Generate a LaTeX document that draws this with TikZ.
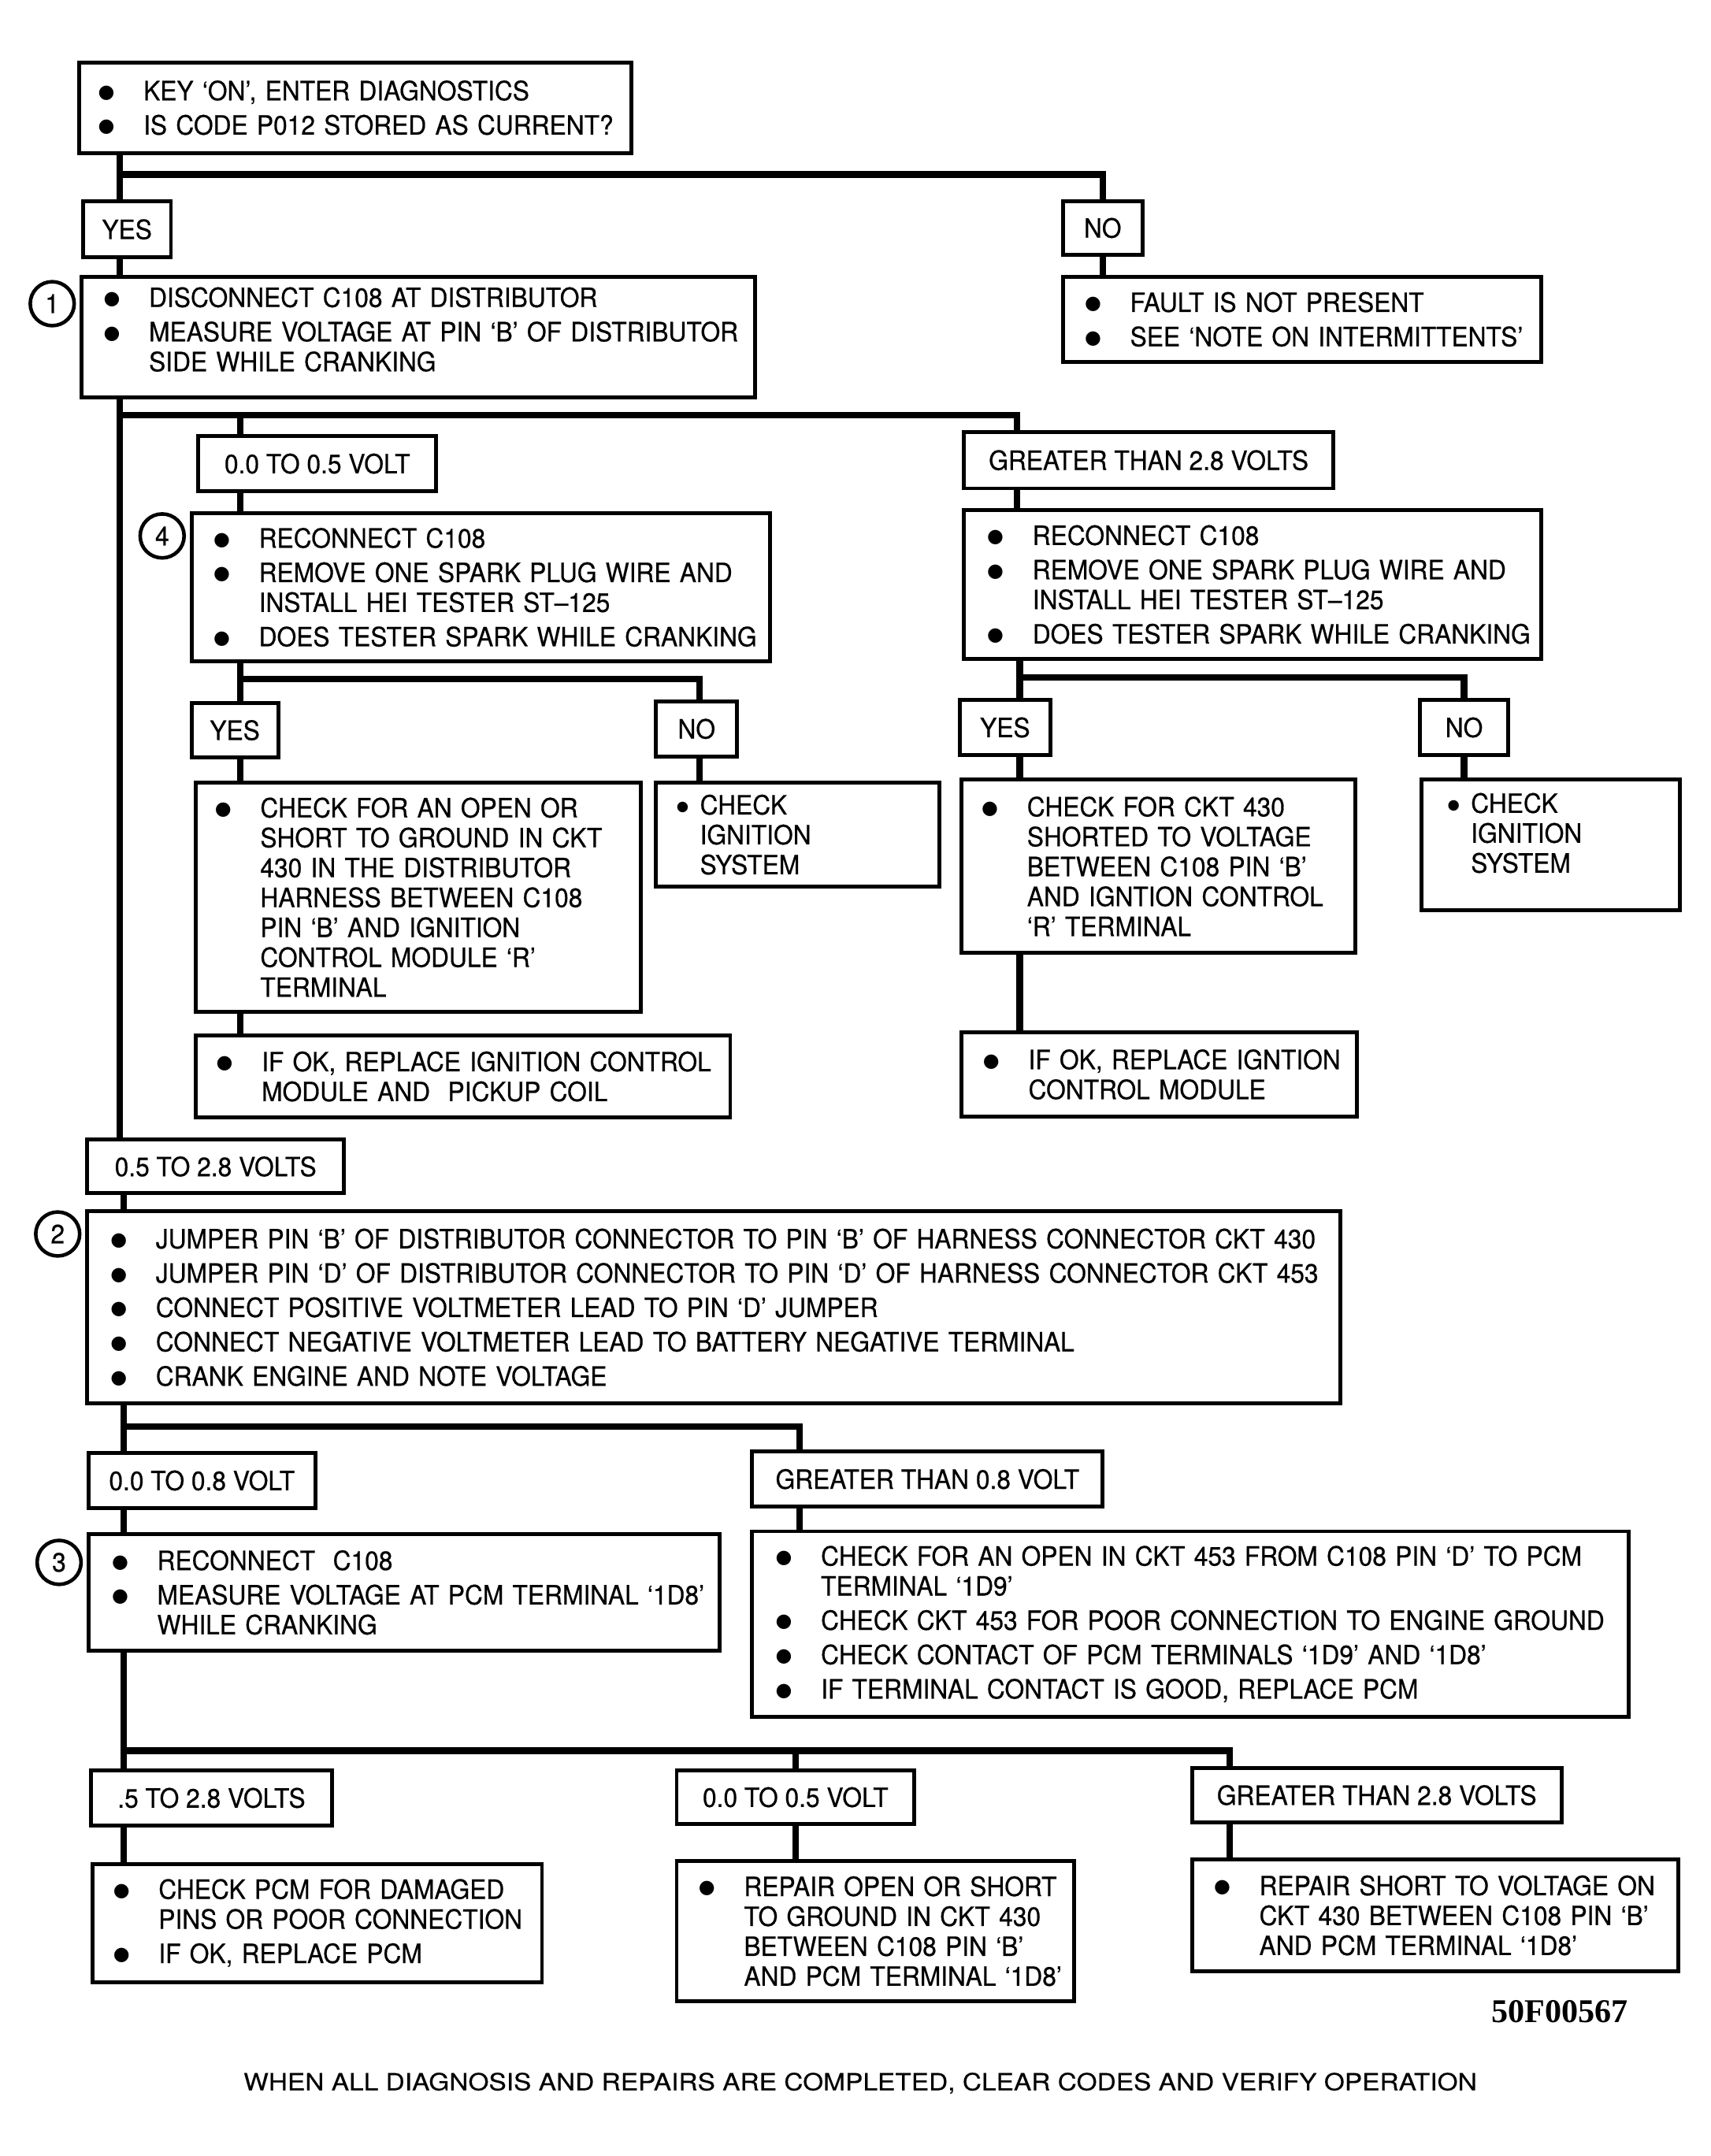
\documentclass[tikz,border=0pt]{standalone}
\usepackage{fontspec}
\setmainfont[FakeStretch=0.94,FakeBold=0.5]{TeX Gyre Heros}
\newfontfamily\footfont[FakeStretch=1.12,FakeBold=0.3]{TeX Gyre Heros}
\newfontfamily\codefont{Liberation Serif}
\newfontfamily\dotfont{DejaVu Sans}
\newlength\pxl
\setlength\pxl{0.01744cm}
\newcommand{\bul}{\makebox[33\pxl][l]{\smash{\raisebox{0.9pt}{\dotfont\fontsize{6.8}{7}\selectfont ●}}}}
\newcommand{\sbul}{\makebox[17\pxl][l]{\smash{\raisebox{1.3pt}{\dotfont\fontsize{5}{6}\selectfont ●}}}}
\newcommand{\ind}{\hspace*{33\pxl}}
\newcommand{\sind}{\hspace*{17\pxl}}
\newcommand{\nx}{\\[1.6pt]}
\tikzset{
	box/.style n args={3}{
		draw, line width=1.4pt,
		anchor=north west,
		inner xsep=0pt, inner ysep=0pt,
		text width=#1*\pxl,
		minimum height=#2*\pxl,
		align=left,
		execute at begin node={\leftskip=#3\pxl\hyphenpenalty=10000\relax}},
	lbl/.style n args={2}{
		draw, line width=1.4pt,
		anchor=north west,
		minimum width=#1*\pxl,
		minimum height=#2*\pxl,
		inner sep=0pt},
	num/.style={
		draw, circle, line width=1.3pt,
		minimum size=32*\pxl, inner sep=0pt},
	conn/.style={line width=2.4pt},
}

\begin{document}
\begin{tikzpicture}
	[x=\pxl, y=-\pxl,
	font=\fontsize{9.6}{10.8}\selectfont]

	\useasboundingbox (0,0) rectangle (1245,1569);

	% columns of the connector lines
	\coordinate (ca) at (87,0);
	\coordinate (cc) at (740,0);
	\coordinate (cd) at (175,0);
	\coordinate (ce) at (509,0);
	\coordinate (cf) at (742,0);
	\coordinate (ch) at (90,0);
	\coordinate (ci) at (582,0);
	\coordinate (cj) at (895,0);

	% first test
	\node[box={402}{66}{14}] (top) at (56,44)
		{\bul KEY ‘ON’, ENTER DIAGNOSTICS\nx
		\bul IS CODE P012 STORED AS CURRENT?};
	\node[lbl={64}{41}] (yes1) at (59,145) {YES};
	\node[lbl={58}{39}] (no1) at (772,145) {NO};
	\node[box={348}{62}{16}] (res1) at (772,200)
		{\bul FAULT IS NOT PRESENT\nx
		\bul SEE ‘NOTE ON INTERMITTENTS’};
	\node[box={490}{88}{16}] (box1) at (58,200)
		{\bul DISCONNECT C108 AT DISTRIBUTOR\nx
		\bul MEASURE VOLTAGE AT PIN ‘B’ OF DISTRIBUTOR\\
		\ind SIDE WHILE CRANKING\\[-5pt]\mbox{}};
	\node[num] (n1) at (38,221) {1};

	% distributor side voltage
	\node[lbl={173}{40}] (lo05a) at (143,316) {0.0 TO 0.5 VOLT};
	\node[lbl={269}{41}] (gt28a) at (700,313) {GREATER THAN 2.8 VOLTS};
	\node[box={421}{108}{16}] (box4) at (138,372)
		{\bul RECONNECT C108\nx
		\bul REMOVE ONE SPARK PLUG WIRE AND\\
		\ind INSTALL HEI TESTER ST–125\nx
		\bul DOES TESTER SPARK WHILE CRANKING};
	\node[num] (n4) at (118,390) {4};
	\node[box={420}{108}{17}] (boxR) at (700,370)
		{\bul RECONNECT C108\nx
		\bul REMOVE ONE SPARK PLUG WIRE AND\\
		\ind INSTALL HEI TESTER ST–125\nx
		\bul DOES TESTER SPARK WHILE CRANKING};

	% spark test, left
	\node[lbl={63}{40}] (yes4) at (138,510) {YES};
	\node[lbl={59}{40}] (no4) at (476,509) {NO};
	\node[box={324}{167}{14}] (chkL) at (141,568)
		{\bul CHECK FOR AN OPEN OR\\
		\ind SHORT TO GROUND IN CKT\\
		\ind 430 IN THE DISTRIBUTOR\\
		\ind HARNESS BETWEEN C108\\
		\ind PIN ‘B’ AND IGNITION\\
		\ind CONTROL MODULE ‘R’\\
		\ind TERMINAL};
	\node[box={206}{76}{15}] (ignL) at (476,568)
		{\sbul CHECK\\
		\sind IGNITION\\
		\sind SYSTEM};
	\node[box={389}{60}{15}] (okL) at (141,752)
		{\bul IF OK, REPLACE IGNITION CONTROL\\
		\ind MODULE AND\ \ PICKUP COIL};

	% spark test, right
	\node[lbl={66}{40}] (yesR) at (697,508) {YES};
	\node[lbl={64}{40}] (noR) at (1032,508) {NO};
	\node[box={287}{126}{15}] (chkR) at (698,566)
		{\bul CHECK FOR CKT 430\\
		\ind SHORTED TO VOLTAGE\\
		\ind BETWEEN C108 PIN ‘B’\\
		\ind AND IGNTION CONTROL\\
		\ind ‘R’ TERMINAL};
	\node[box={188}{95}{19}] (ignR) at (1033,566)
		{\sbul CHECK\\
		\sind IGNITION\\
		\sind SYSTEM\\[-2pt]\mbox{}};
	\node[box={288}{61}{16}] (okR) at (698,750)
		{\bul IF OK, REPLACE IGNTION\\
		\ind CONTROL MODULE};

	% jumper test
	\node[lbl={187}{39}] (v0528) at (62,828) {0.5 TO 2.8 VOLTS};
	\node[box={912}{140}{17}] (box2) at (62,880)
		{\bul JUMPER PIN ‘B’ OF DISTRIBUTOR CONNECTOR TO PIN ‘B’ OF HARNESS CONNECTOR CKT 430\nx
		\bul JUMPER PIN ‘D’ OF DISTRIBUTOR CONNECTOR TO PIN ‘D’ OF HARNESS CONNECTOR CKT 453\nx
		\bul CONNECT POSITIVE VOLTMETER LEAD TO PIN ‘D’ JUMPER\nx
		\bul CONNECT NEGATIVE VOLTMETER LEAD TO BATTERY NEGATIVE TERMINAL\nx
		\bul CRANK ENGINE AND NOTE VOLTAGE};
	\node[num] (n2) at (42,898) {2};

	\node[lbl={165}{40}] (lo08) at (63,1056) {0.0 TO 0.8 VOLT};
	\node[lbl={255}{40}] (gt08) at (546,1055) {GREATER THAN 0.8 VOLT};
	\node[box={459}{85}{17}] (box3) at (63,1115)
		{\bul RECONNECT\ \ C108\nx
		\bul MEASURE VOLTAGE AT PCM TERMINAL ‘1D8’\\
		\ind WHILE CRANKING};
	\node[num] (n3) at (43,1137) {3};
	\node[box={638}{135}{17}] (chk08) at (546,1113)
		{\bul CHECK FOR AN OPEN IN CKT 453 FROM C108 PIN ‘D’ TO PCM\\
		\ind TERMINAL ‘1D9’\nx
		\bul CHECK CKT 453 FOR POOR CONNECTION TO ENGINE GROUND\nx
		\bul CHECK CONTACT OF PCM TERMINALS ‘1D9’ AND ‘1D8’\nx
		\bul IF TERMINAL CONTACT IS GOOD, REPLACE PCM};

	% pcm terminal voltage
	\node[lbl={175}{40}] (v528b) at (65,1287) {.5 TO 2.8 VOLTS};
	\node[lbl={173}{39}] (lo05b) at (491,1287) {0.0 TO 0.5 VOLT};
	\node[lbl={269}{40}] (gt28b) at (866,1285) {GREATER THAN 2.8 VOLTS};
	\node[box={327}{86}{15}] (pcmA) at (66,1355)
		{\bul CHECK PCM FOR DAMAGED\\
		\ind PINS OR POOR CONNECTION\nx
		\bul IF OK, REPLACE PCM};
	\node[box={289}{102}{16}] (pcmB) at (491,1353)
		{\bul REPAIR OPEN OR SHORT\\
		\ind TO GROUND IN CKT 430\\
		\ind BETWEEN C108 PIN ‘B’\\
		\ind AND PCM TERMINAL ‘1D8’};
	\node[box={354}{81}{16}] (pcmC) at (866,1352)
		{\bul REPAIR SHORT TO VOLTAGE ON\\
		\ind CKT 430 BETWEEN C108 PIN ‘B’\\
		\ind AND PCM TERMINAL ‘1D8’};

	\node[anchor=east, inner sep=0pt, font=\codefont\bfseries\fontsize{12}{14}\selectfont] (figid) at (1185,1464) {50F00567};
	\node[inner sep=0pt, font=\footfont\fontsize{8.5}{10}\selectfont] (foot) at (626,1516)
		{WHEN ALL DIAGNOSIS AND REPAIRS ARE COMPLETED, CLEAR CODES AND VERIFY OPERATION};

	% connectors
	\coordinate (jA) at (87,127);
	\draw[conn] (top.south -| ca) -- (yes1.north -| ca);
	\draw[conn] (yes1.south -| ca) -- (box1.north -| ca);
	\draw[conn] (jA) -| (no1.north);
	\draw[conn] (no1.south) -- (res1.north -| no1.south);

	\coordinate (jB) at (87,302);
	\draw[conn] (box1.south -| ca) -- (v0528.north -| ca);
	\draw[conn] (jB) -| (gt28a.north -| cc);
	\draw[conn] (jB -| cd) -- (lo05a.north -| cd);
	\draw[conn] (lo05a.south -| cd) -- (box4.north -| cd);
	\draw[conn] (gt28a.south -| cc) -- (boxR.north -| cc);

	\coordinate (jC) at (175,494);
	\draw[conn] (box4.south -| cd) -- (yes4.north -| cd);
	\draw[conn] (jC) -| (no4.north -| ce);
	\draw[conn] (yes4.south -| cd) -- (chkL.north -| cd);
	\draw[conn] (no4.south -| ce) -- (ignL.north -| ce);
	\draw[conn] (chkL.south -| cd) -- (okL.north -| cd);

	\coordinate (jD) at (742,493);
	\draw[conn] (boxR.south -| cf) -- (yesR.north -| cf);
	\draw[conn] (jD) -| (noR.north);
	\draw[conn] (yesR.south -| cf) -- (chkR.north -| cf);
	\draw[conn] (noR.south) -- (ignR.north -| noR.south);
	\draw[conn] (chkR.south -| cf) -- (okR.north -| cf);

	\draw[conn] (v0528.south -| ch) -- (box2.north -| ch);

	\coordinate (jE) at (90,1038);
	\draw[conn] (box2.south -| ch) -- (lo08.north -| ch);
	\draw[conn] (jE) -| (gt08.north -| ci);
	\draw[conn] (lo08.south -| ch) -- (box3.north -| ch);
	\draw[conn] (gt08.south -| ci) -- (chk08.north -| ci);

	\coordinate (jF) at (90,1274);
	\draw[conn] (box3.south -| ch) -- (v528b.north -| ch);
	\draw[conn] (jF) -| (gt28b.north -| cj);
	\draw[conn] (jF -| lo05b.north) -- (lo05b.north);
	\draw[conn] (v528b.south -| ch) -- (pcmA.north -| ch);
	\draw[conn] (lo05b.south) -- (pcmB.north -| lo05b.south);
	\draw[conn] (gt28b.south -| cj) -- (pcmC.north -| cj);
\end{tikzpicture}
\end{document}
